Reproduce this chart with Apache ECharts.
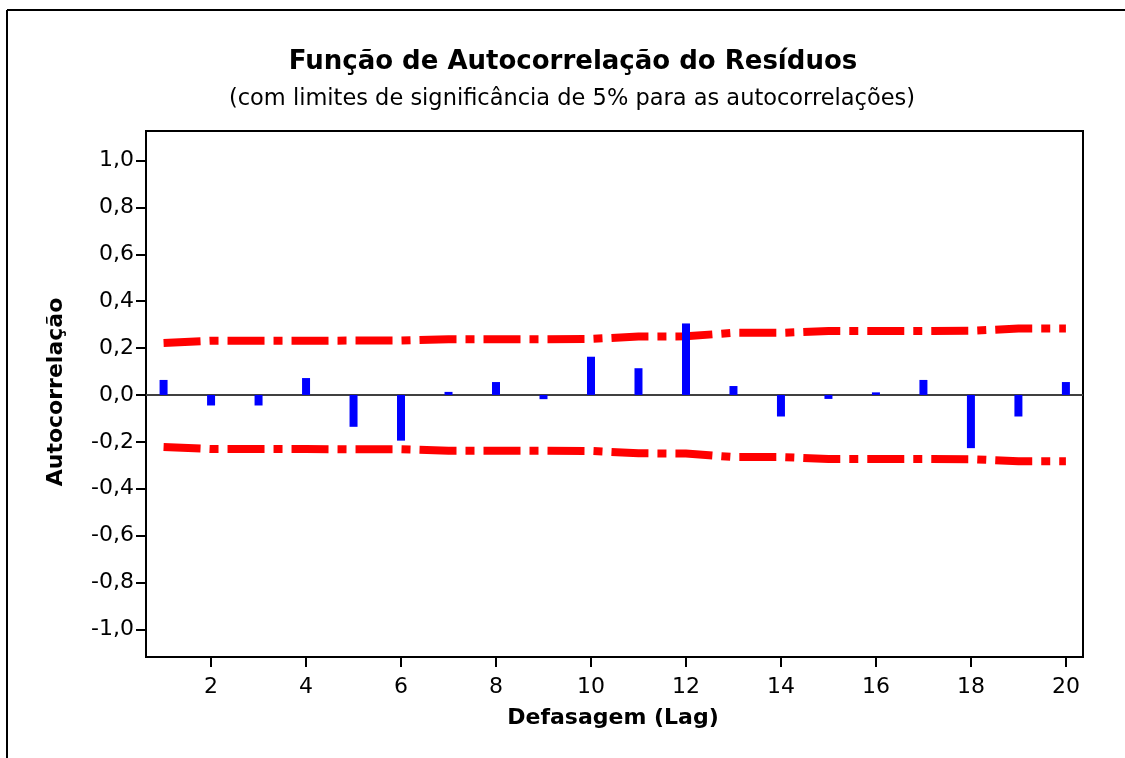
<!DOCTYPE html>
<html>
<head>
<meta charset="utf-8">
<script src="https://cdn.jsdelivr.net/npm/echarts@6/dist/echarts.min.js"></script>
<style>
html,body{margin:0;padding:0;background:#fff;}
#chart{width:1125px;height:758px;}
</style>
</head>
<body>
<div id="chart"></div>
<script>
var lags = [1,2,3,4,5,6,7,8,9,10,11,12,13,14,15,16,17,18,19,20];
var acf = [0.064,-0.045,-0.045,0.072,-0.136,-0.195,0.013,0.055,-0.018,0.163,0.114,0.305,0.038,-0.092,-0.017,0.011,0.064,-0.227,-0.092,0.055];
var upperLimit = [0.222,0.231,0.231,0.231,0.232,0.232,0.238,0.238,0.238,0.239,0.249,0.250,0.265,0.265,0.273,0.273,0.273,0.274,0.283,0.283];
var lowerLimit = [-0.222,-0.231,-0.231,-0.231,-0.232,-0.232,-0.238,-0.238,-0.238,-0.239,-0.249,-0.250,-0.265,-0.265,-0.273,-0.273,-0.273,-0.274,-0.283,-0.283];
var xTicks = [2,4,6,8,10,12,14,16,18,20];
var yTicks = [-1.0,-0.8,-0.6,-0.4,-0.2,0.0,0.2,0.4,0.6,0.8,1.0];
var titleText = 'Função de Autocorrelação do Resíduos';
var subtitleText = '(com limites de significância de 5% para as autocorrelações)';
var xName = 'Defasagem (Lag)';
var yName = 'Autocorrelação';

function pairs(xs, ys){ return xs.map(function(x,i){ return [x, ys[i]]; }); }

var FONT = 'DejaVu Sans';
var chart = echarts.init(document.getElementById('chart'), null, {renderer:'canvas'});
var dash = [37, 9, 9, 9];
chart.setOption({
  animation: false,
  backgroundColor: '#ffffff',
  grid: {left:146, right:42, top:131, bottom:101, show:true, borderColor:'#000', borderWidth:2, backgroundColor:'transparent'},
  xAxis: {
    type:'value', min:0.63, max:20.36,
    axisLine:{show:false, onZero:false},
    splitLine:{show:false},
    axisTick:{show:true, customValues:xTicks, length:10, inside:false, lineStyle:{color:'#000', width:2}},
    axisLabel:{show:true, customValues:xTicks, margin:19, color:'#000', fontFamily:FONT, fontSize:22}
  },
  yAxis: {
    type:'value', min:-1.118, max:1.126,
    axisLine:{show:false, onZero:false},
    splitLine:{show:false},
    axisTick:{show:true, customValues:yTicks, length:10, inside:false, lineStyle:{color:'#000', width:2}},
    axisLabel:{show:true, customValues:yTicks, margin:12, color:'#000', fontFamily:FONT, fontSize:22,
      formatter:function(v){ return v.toFixed(1).replace('.', ','); }}
  },
  series: [
    {
      type:'line', data:pairs(lags, upperLimit), symbol:'none', z:3,
      lineStyle:{color:'#ff0000', width:8, type:dash, cap:'butt', join:'miter'}
    },
    {
      type:'line', data:pairs(lags, lowerLimit), symbol:'none', z:3,
      lineStyle:{color:'#ff0000', width:8, type:dash, cap:'butt', join:'miter'}
    },
    {
      type:'bar', data:pairs(lags, acf), barWidth:8, z:5,
      itemStyle:{color:'#0000ff'},
      markLine:{silent:true, symbol:['none','none'], label:{show:false}, z:4,
        lineStyle:{color:'#404040', width:2, type:'solid'},
        data:[{yAxis:0}]}
    }
  ],
  graphic: [
    {type:'line', shape:{x1:7, y1:10, x2:1125, y2:10}, style:{stroke:'#000', lineWidth:2}},
    {type:'line', shape:{x1:7, y1:10, x2:7, y2:758}, style:{stroke:'#000', lineWidth:2}},
    {type:'text', x:573, y:62, style:{text:titleText, fontFamily:FONT, fontWeight:'bold', fontSize:26, fill:'#000', textAlign:'center', textVerticalAlign:'middle'}},
    {type:'text', x:572, y:99, style:{text:subtitleText, fontFamily:FONT, fontSize:22.5, fill:'#000', textAlign:'center', textVerticalAlign:'middle'}},
    {type:'text', x:613, y:718, style:{text:xName, fontFamily:FONT, fontWeight:'bold', fontSize:22, fill:'#000', textAlign:'center', textVerticalAlign:'middle'}},
    {type:'text', x:56, y:392, rotation:Math.PI/2, style:{text:yName, fontFamily:FONT, fontWeight:'bold', fontSize:22, fill:'#000', textAlign:'center', textVerticalAlign:'middle'}}
  ]
});
</script>
</body>
</html>
